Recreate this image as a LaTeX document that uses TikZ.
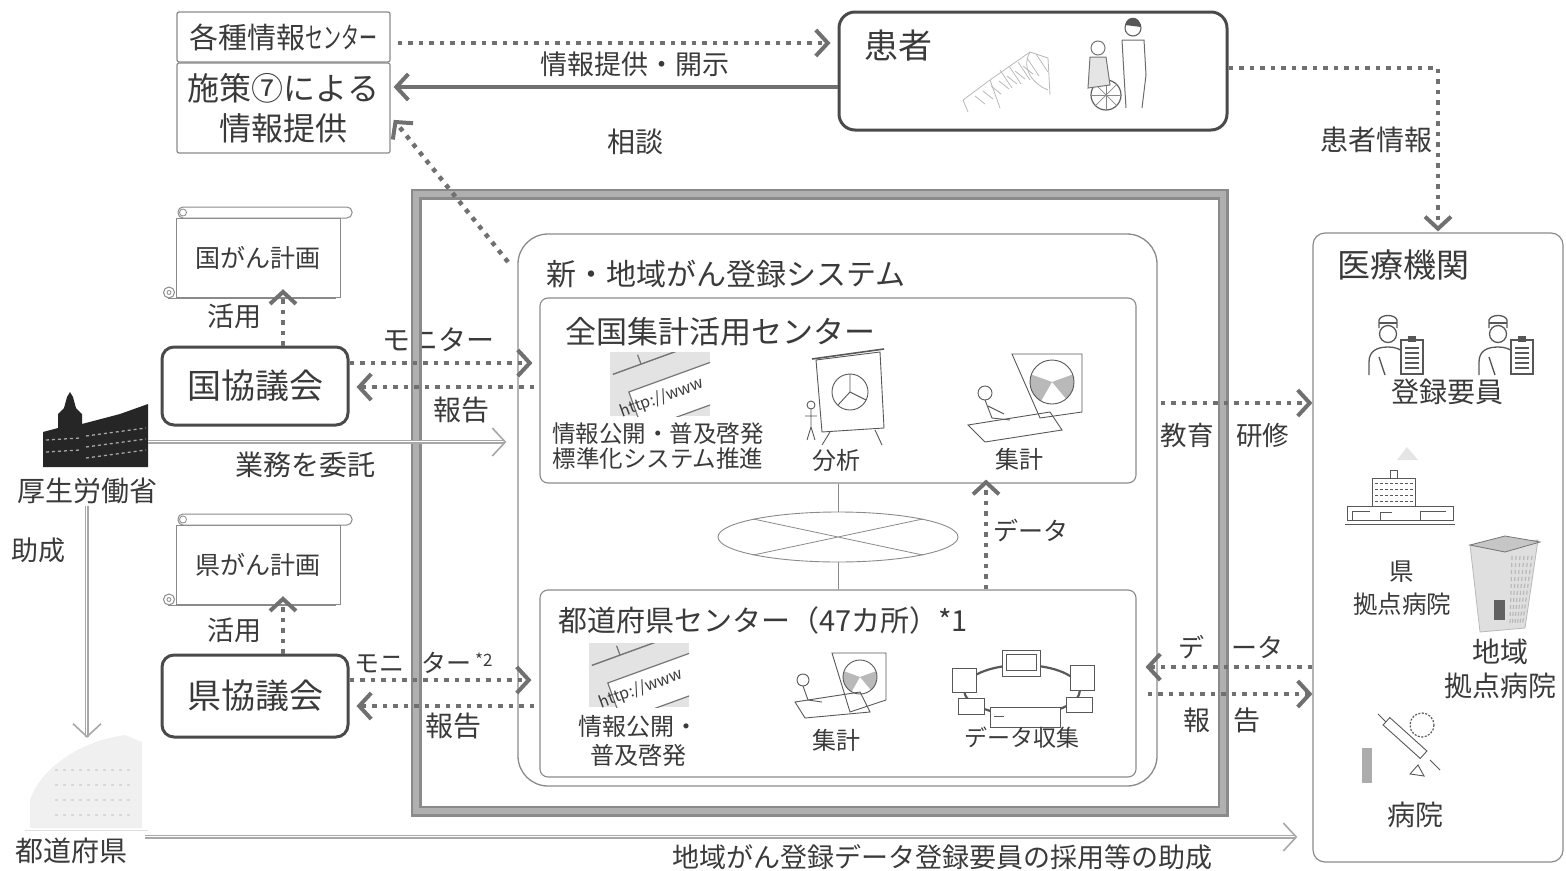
\documentclass[tikz,border=0pt]{standalone}
\usepackage{fontspec}
\setmainfont{Noto Sans CJK JP}
\usetikzlibrary{arrows.meta,shapes.geometric}

\definecolor{ink}{HTML}{3A3A3A}
\definecolor{dotc}{HTML}{707070}
\definecolor{boxc}{HTML}{8A8A8A}
\definecolor{darkbox}{HTML}{4A4A4A}
\definecolor{dblc}{HTML}{A8A8A8}
\definecolor{framec}{HTML}{8A8A8A}
\definecolor{framein}{HTML}{B0B0B0}

\newcommand\fsz[1]{\fontsize{#1}{#1}\selectfont}

\tikzset{
  lbl/.style={inner sep=0pt, text=ink, font=\fsz{#1}},
  lbl/.default=27,
  thinbox/.style={draw=boxc, line width=1.2pt, rounded corners=2pt, inner sep=0pt},
  thickbox/.style={draw=darkbox, line width=3pt, rounded corners=12pt, inner sep=0pt},
  roundbox/.style={draw=boxc, line width=1.1pt, inner sep=0pt},
  dotline/.style={draw=dotc, line width=4.5pt, dash pattern=on 4.5pt off 6pt},
  chev/.style={-{Straight Barb[length=12pt,width=26pt,line width=4pt]}},
  dblline/.style={draw=dblc, line width=0.8pt, double=white, double distance=2.4pt},
  dbltip/.style={draw=dblc, line width=0.1pt, -{Straight Barb[length=13pt,width=28pt,line width=1.6pt]}},
  art/.style={draw=ink!85, line width=0.9pt},
  spot/.style={inner sep=0pt, minimum width=#1},
  % rolled paper sheet, origin at the top-left corner of the sheet
  scroll/.pic={
    \draw[boxc, line width=1pt, fill=white] (0,0) rectangle (164,79);
    \draw[boxc, line width=1pt, fill=white, rounded corners=5pt] (2,-11) rectangle (176,0);
    \draw[boxc, line width=0.8pt] (7,-5.5) circle (3.5);
    \draw[boxc, line width=1pt] (-8,80) -- (160,80);
    \draw[boxc, line width=1pt, fill=white] (-7,74.5) circle (5.5);
    \draw[boxc, line width=0.8pt] (-7,74.5) circle (2);
  },
  % registrar with cap and clipboard, origin at top-left
  registrar/.pic={
    \draw[ink!85, line width=1.3pt] (20,21) circle (8.5);
    \draw[ink!85, line width=1.3pt] (11,15) -- (11,7) .. controls (13,1) and (27,1) .. (29,7) -- (29,15);
    \draw[ink!85, line width=1.3pt] (11,10) -- (29,10);
    \draw[ink!85, line width=1.3pt] (1,62) -- (1,49) .. controls (1,38) and (9,34) .. (20,34) .. controls (27,34) and (32,36) .. (35,39);
    \draw[ink!85, line width=1.3pt] (11,44) -- (17,62);
    \draw[ink!85, line width=1.3pt, fill=white] (33,27) rectangle (55,61);
    \fill[ink!85] (40,23) rectangle (48,29);
    \foreach \yy in {35,40,45,50,55} \draw[ink!85, line width=1.1pt] (37,\yy) -- (51,\yy);
  },
  % web page snapshot, origin at top-left, 100 x 64
  browser/.pic={
    \fill[gray!22] (0,0) rectangle (100,64);
    \begin{scope}
      \clip (0,0) rectangle (100,64);
      \draw[ink!70, line width=1.2pt, fill=white, rotate=20] (4,44) rectangle (140,84);
      \draw[ink!70, line width=1.4pt, rotate=20] (-5,22) -- (120,22);
      \draw[ink!70, line width=1.2pt, rotate=20] (25,22) -- (25,12);
      \node[rotate=20, text=ink, font=\fsz{16}, inner sep=0pt] (-url) at (52,46) {http://www};
    \end{scope}
  },
}

\begin{document}
\begin{tikzpicture}[x=1pt,y=-1pt]
\useasboundingbox (0,0) rectangle (1566,870);

% ---------------- clip-art ----------------
% ministry building
\fill[gray!30!black] (43,467) -- (43,432) -- (58,428) -- (58,414) -- (64,408) -- (67,397) -- (70,392) -- (73,397) -- (76,408) -- (82,414) -- (82,424) -- (120,414) -- (148,404) -- (148,467) -- cycle;
\foreach \yy in {436,447,458} \draw[gray!70, line width=1.3pt, dash pattern=on 3pt off 3pt] (86,\yy) -- (146,\yy-8);
\foreach \yy in {440,452} \draw[gray!70, line width=1.3pt, dash pattern=on 3pt off 3pt] (46,\yy) -- (80,\yy-2);
\node[spot=105pt, minimum height=74pt] (mhlwico) at (95.5,430) {};

% prefectural office (faded)
\fill[gray!12] (30,828) -- (30,800) .. controls (42,765) and (85,740) .. (125,735) -- (142,742) -- (142,828) -- cycle;
\foreach \yy in {770,785,800,815} \draw[gray!30, line width=1.5pt, dash pattern=on 3pt off 5pt] (55,\yy) -- (135,\yy);
\draw[gray!25, line width=1pt] (25,830) -- (148,830);
\node[spot=120pt, minimum height=100pt] (prefico) at (84.5,783) {};

% patient in bed (sketch)
\begin{scope}[draw=gray!55, line width=0.8pt]
  \draw (963,100) -- (990,80) -- (1030,52) -- (1048,58) -- (1050,95);
  \draw (963,100) -- (968,112);
  \draw (990,80) -- (1000,108);
  \draw (1030,52) .. controls (1020,70) and (1035,85) .. (1048,90);
  \foreach \k in {0,...,6} \draw (975+\k*8,96-\k*5) -- (985+\k*8,104-\k*5);
  \foreach \k in {0,...,4} \draw (1000+\k*9,70-\k*4) -- (1012+\k*9,88-\k*4);
\end{scope}
% wheelchair with caregiver
\draw[ink!80, line width=1.2pt] (1106,95) circle (15);
\foreach \a in {0,45,...,315} \draw[ink!60, line width=0.7pt] (1106,95) -- ++(\a:15);
\draw[ink!70, line width=1pt] (1098,48) circle (7);
\draw[ink!70, line width=1pt, fill=gray!20] (1090,57) -- (1106,57) -- (1110,85) -- (1088,88) -- cycle;
\draw[ink!80, line width=1.1pt] (1133,28) circle (8);
\fill[ink!85] (1125,25) .. controls (1127,15) and (1140,15) .. (1141,27) -- cycle;
\draw[ink!75, line width=1pt] (1122,40) -- (1144,40) -- (1146,75) -- (1142,108) (1126,108) -- (1124,75) -- (1122,40);

% web snapshots
\pic (brA) at (610,352) {browser};
\pic (brB) at (589,643) {browser};

% analysis easel
\begin{scope}[art]
  \draw[fill=white] (816,360) -- (880,352) -- (884,428) -- (822,432) -- cycle;
  \draw[line width=1.6pt] (812,359) -- (884,349);
  \draw (850,392) circle (18);
  \draw (850,392) -- (850,374) (850,392) -- (866,400) (850,392) -- (838,405);
  \draw (830,432) -- (822,445) (875,430) -- (882,445);
  \draw (811,405) circle (4);
  \draw (811,409) -- (811,427) (805,416) -- (817,416) (811,427) -- (807,440) (811,427) -- (815,440);
\end{scope}

% national tally: chart and person at desk
\begin{scope}[art]
  \draw[fill=white] (1012,354) -- (1082,354) -- (1082,412) -- (1040,418) -- cycle;
  \fill[gray!55] (1052,382) -- ++(-20:22) arc[start angle=-20, end angle=50, radius=22] -- cycle;
  \fill[gray!55] (1052,382) -- ++(120:22) arc[start angle=120, end angle=200, radius=22] -- cycle;
  \draw (1052,382) circle (22);
  \draw (968,425) -- (1050,412) -- (1062,430) -- (985,442) -- cycle;
  \draw (985,393) circle (7);
  \draw (985,400) -- (992,418) -- (1010,420) (988,406) -- (1004,414);
\end{scope}

% prefectural tally
\begin{scope}[art]
  \draw[fill=white] (832,653) -- (886,653) -- (886,700) -- (850,712) -- cycle;
  \fill[gray!55] (860,677) -- ++(-20:17) arc[start angle=-20, end angle=50, radius=17] -- cycle;
  \fill[gray!55] (860,677) -- ++(120:17) arc[start angle=120, end angle=200, radius=17] -- cycle;
  \draw (860,677) circle (17);
  \draw (795,702) -- (860,692) -- (870,712) -- (805,718) -- cycle;
  \draw (803,680) circle (6);
  \draw (803,686) -- (808,700) -- (822,702);
\end{scope}

% data collection network
\begin{scope}[art]
  \draw[line width=2.2pt] (1022,690) ellipse [x radius=58, y radius=25];
  \draw[fill=white] (1002,650) rectangle (1040,676);
  \draw (1006,654) rectangle (1036,670);
  \draw[fill=white] (952,668) rectangle (976,692);
  \draw[fill=white] (1070,665) rectangle (1094,690);
  \draw[fill=white] (958,698) rectangle (984,714);
  \draw[fill=white] (1066,697) rectangle (1092,712);
  \draw[fill=white] (990,707) rectangle (1060,727);
  \draw (994,716) -- (1004,716);
\end{scope}

% registrars
\pic at (1368,313) {registrar};
\pic at (1478,313) {registrar};

% prefectural base hospital
\begin{scope}[art]
  \draw[fill=white] (1372,478) rectangle (1415,506);
  \draw[fill=white] (1390,470) rectangle (1397,478);
  \foreach \yy in {483,489,495,501} \draw[line width=1pt, dash pattern=on 3pt off 2pt] (1375,\yy) -- (1413,\yy);
  \draw[fill=white] (1347,506) rectangle (1453,520);
  \draw (1352,520) -- (1352,511) -- (1370,511) (1380,520) -- (1380,512) -- (1392,512) (1420,520) -- (1420,511) -- (1446,511);
  \draw (1345,524) -- (1455,524);
\end{scope}
\fill[gray!20] (1397,460) -- (1407,447) -- (1418,460) -- cycle;

% regional base hospital
\fill[gray!25] (1470,545) -- (1538,540) -- (1525,628) -- (1480,632) -- cycle;
\draw[gray!55, line width=0.8pt] (1470,545) -- (1538,540) -- (1525,628) -- (1480,632) -- cycle;
\draw[ink!70, fill=gray!45, line width=0.8pt] (1470,545) -- (1505,536) -- (1540,542) -- (1505,552) -- cycle;
\foreach \k in {0,...,5} \draw[gray!55, line width=1.2pt, dash pattern=on 4pt off 3pt] (1512+\k*4,556) -- (1510+\k*2.5,624);
\fill[ink!80] (1494,600) rectangle (1505,620);

% clinic
\fill[gray!65] (1362,748) rectangle (1372,783);
\begin{scope}[art]
  \draw[rotate around={-42:(1405,738)}] (1380,733) rectangle (1430,743);
  \draw (1378,714) -- (1386,722) (1430,760) -- (1440,770);
  \draw (1418,765) -- (1410,774) -- (1424,776) -- cycle;
  \draw[line width=1.2pt, dash pattern=on 2pt off 1.5pt] (1422,725) circle (12);
\end{scope}

% ---------------- boxes ----------------
\node[thinbox, lbl=29, minimum width=213pt, minimum height=50pt] (kakushu) at (283.5,37) {各種情報\scalebox{0.62}[1]{センター}};
\node[thinbox, lbl=32, align=center, minimum width=213pt, minimum height=90pt] (shisaku) at (283.5,108) {施策⑦による\\[8pt]情報提供};
\node[thickbox, rounded corners=16pt, minimum width=388pt, minimum height=118pt] (kanja) at (1033,71) {};
\node[lbl=34] (kanjal) at (898,46) {患者};

\pic at (176,218) {scroll};
\node[lbl=25, minimum width=164pt, minimum height=79pt] (kuniplan) at (258,257.5) {国がん計画};
\node[thickbox, lbl=34, minimum width=186pt, minimum height=78pt] (kunikyo) at (255,386) {国協議会};
\pic at (176,525) {scroll};
\node[lbl=25, minimum width=164pt, minimum height=79pt] (kenplan) at (258,564.5) {県がん計画};
\node[thickbox, lbl=34, minimum width=186pt, minimum height=82pt] (kenkyo) at (255,696) {県協議会};

\node[roundbox, line width=1.3pt, rounded corners=30pt, minimum width=639pt, minimum height=552pt] (system) at (837.5,510) {};
\node[lbl=30] (systeml) at (726,274) {新・地域がん登録システム};
\node[roundbox, rounded corners=8pt, minimum width=596pt, minimum height=185pt] (zenkoku) at (838,390.5) {};
\node[lbl=31] (zenkokul) at (720,332) {全国集計活用センター};
\node[roundbox, rounded corners=8pt, minimum width=596pt, minimum height=187pt] (todo) at (838,683.5) {};
\node[lbl=29] (todol) at (763,620) {都道府県センター（47カ所）*1};
\node[ellipse, draw=boxc, line width=0.9pt, minimum width=240pt, minimum height=50pt, inner sep=0pt] (net) at (838,537) {};
\draw[boxc, line width=0.8pt] (net.168) -- (net.-12) (net.12) -- (net.192);

\node[roundbox, line width=1.2pt, rounded corners=12pt, minimum width=250pt, minimum height=629pt] (iryo) at (1438,547.5) {};
\node[lbl=33] (iryol) at (1403,265) {医療機関};

% ---------------- labels ----------------
\node[lbl=27] (l-kaiji) at (635,64) {情報提供・開示};
\node[lbl=28] (l-sodan) at (635,142) {相談};
\node[lbl=28] (l-kjoho) at (1376,140) {患者情報};
\node[lbl=27] (l-katsu1) at (234,316) {活用};
\node[lbl=27] (l-katsu2) at (234,630) {活用};
\node[lbl=28] (l-mon1) at (438,340) {モニター};
\node[lbl=28] (l-rep1) at (461,410) {報告};
\node[lbl=28] (l-itaku) at (305,465) {業務を委託};
\node[lbl=28] (mhlwl) at (87,491) {厚生労働省};
\node[lbl=27] (l-josei) at (39,550) {助成};
\node[lbl=25] (l-mon2) at (413,663) {モニ\hspace{17pt}ター};
\node[lbl=17, anchor=west] (l-mon2n) at (475,660) {*2};
\node[lbl=28] (l-rep2) at (453,726) {報告};
\node[lbl=28] (prefl) at (72,851) {都道府県};
\node[lbl=27] (l-bottom) at (942,857) {地域がん登録データ登録要員の採用等の助成};
\node[lbl=23.5, align=center] (l-kokai1) at (658,446) {情報公開・普及啓発\\[1pt]標準化システム推進};
\node[lbl=24] (l-bunseki) at (836,460) {分析};
\node[lbl=24] (l-shukei1) at (1019,459) {集計};
\node[lbl=25] (l-data1) at (1031,531) {データ};
\node[lbl=24, align=center] (l-kokai2) at (638,741) {情報公開・\\[5pt]普及啓発};
\node[lbl=24] (l-shukei2) at (836,740) {集計};
\node[lbl=23] (l-shushu) at (1022,738) {データ収集};
\node[lbl=28] (l-toroku) at (1447,392) {登録要員};
\node[lbl=26.5] (l-kyoiku) at (1225,435) {教育\hspace{23pt}研修};
\node[lbl=24.5, align=center] (l-kenkyo) at (1402,588) {県\\[9pt]拠点病院};
\node[lbl=28, align=center] (l-chiiki) at (1500,669) {地域\\[6pt]拠点病院};
\node[lbl=28] (l-byoin) at (1415,815) {病院};
\node[lbl=26] (l-data2) at (1231,647) {デ\hspace{27pt}ータ};
\node[lbl=27] (l-rep3) at (1222,720) {報\hspace{23pt}告};

% ---------------- outer frame ----------------
\draw[framec, line width=11pt] (416,194) rectangle (1223,811);
\draw[framein, line width=6pt] (416,194) rectangle (1223,811);

% ---------------- connectors ----------------
% information centre -> patient
\coordinate (kk) at ([yshift=-6pt]kakushu.east);
\draw[dotline, chev, shorten <=7pt, shorten >=7pt] (kk) -- (kk -| kanja.west);
% patient -> information (consultation)
\coordinate (kc) at ([yshift=-16pt]kanja.west);
\draw[draw=dotc, line width=4.5pt, chev, shorten >=3pt] (kc) -- (kc -| shisaku.east);
% system -> information
\coordinate (diagS) at (508,262);
\draw[dotline, chev, shorten >=5pt] (diagS) -- ([yshift=-8pt]shisaku.east);
% patient -> medical institutions
\draw[dotline, chev, shorten >=1pt] ([yshift=3pt]kanja.east) -| (iryo.north);

% councils use the cancer plans
\coordinate (ku) at ([xshift=28pt]kunikyo.north);
\draw[dotline, chev, shorten >=-8pt] (ku) -- (ku |- kuniplan.south);
\coordinate (ke) at ([xshift=28pt]kenkyo.north);
\draw[dotline, chev, shorten >=-8pt] (ke) -- (ke |- kenplan.south);

% national council <-> national centre
\coordinate (kmon) at ([yshift=23pt]kunikyo.east);
\draw[dotline, chev, shorten >=7pt] (kmon) -- (kmon -| zenkoku.west);
\coordinate (krep) at ([yshift=-1pt]kunikyo.east);
\draw[dotline, chev, shorten <=5pt, shorten >=7pt] (krep -| zenkoku.west) -- (krep);

% prefectural council <-> prefectural centre
\coordinate (pmon) at ([yshift=16pt]kenkyo.east);
\draw[dotline, chev, shorten >=8pt] (pmon) -- (pmon -| todo.west);
\coordinate (prep) at ([yshift=-10pt]kenkyo.east);
\draw[dotline, chev, shorten <=5pt, shorten >=7pt] (prep -| todo.west) -- (prep);

% ministry commissions the work
\coordinate (gyo) at ([yshift=-12pt]mhlwico.east);
\draw[dblline, shorten >=12pt] (gyo) -- (gyo -| system.west);
\draw[dbltip, shorten >=11pt] (gyo) -- (gyo -| system.west);
% ministry subsidises prefectures
\coordinate (jo) at ([yshift=-2pt]mhlwl.south);
\draw[dblline, shorten >=-4pt] (jo) -- (jo |- prefico.north);
\draw[dbltip, shorten >=-5pt] (jo) -- (jo |- prefico.north);
% prefectures subsidise registrars
\coordinate (botl) at ([yshift=-54pt]prefico.east);
\draw[dblline, shorten >=16pt] (botl) -- (botl -| iryo.west);
\draw[dbltip, shorten >=15pt] (botl) -- (botl -| iryo.west);

% network links between the centres
\draw[boxc, line width=0.9pt] (zenkoku.south) -- (net.north);
\draw[boxc, line width=0.9pt] (net.south) -- (todo.north);
\coordinate (dup) at ([xshift=148pt]todo.north);
\draw[dotline, chev, shorten >=-4pt] (dup) -- (dup |- zenkoku.south);

% system <-> medical institutions
\coordinate (edu) at ([yshift=107pt]system.east);
\draw[dotline, chev, shorten <=3pt] (edu) -- (edu -| iryo.west);
\coordinate (rdat) at ([yshift=-119.5pt]iryo.west);
\draw[dotline, chev, shorten >=9pt] (rdat) -- (rdat -| todo.east);
\coordinate (rrep) at ([yshift=-146.5pt]iryo.west);
\draw[dotline, chev, shorten <=11pt] (rrep -| todo.east) -- (rrep);
\end{tikzpicture}
\end{document}
